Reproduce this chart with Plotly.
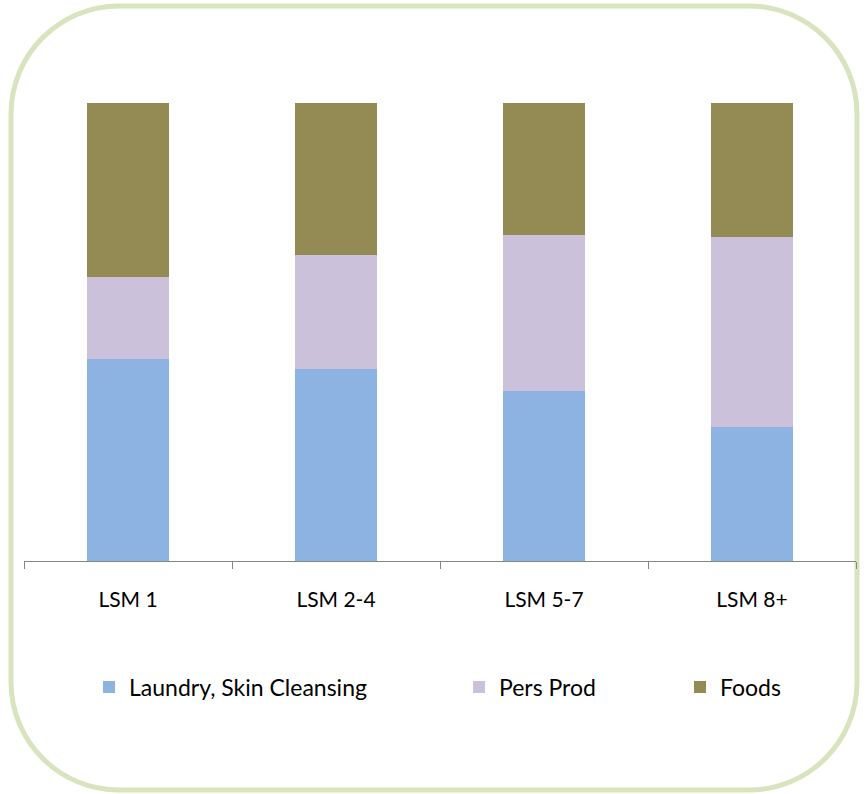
import plotly.graph_objects as go

categories = ["LSM 1", "LSM 2-4", "LSM 5-7", "LSM 8+"]
laundry = [44.1, 41.9, 37.1, 29.3]
pers_prod = [17.9, 24.9, 34.1, 41.5]
foods = [38.0, 33.2, 28.8, 29.2]

W, H = 866, 794
L, R, T, B = 24, 10, 103, 233
PW, PH = W - L - R, H - T - B

def px(x):
    return (x - L) / PW

def py(y):
    return (H - B - y) / PH

FONT = "Lato"

fig = go.Figure()
series = [
    ("Laundry, Skin Cleansing", laundry, "#8DB3E2", "legend"),
    ("Pers Prod", pers_prod, "#CCC1DA", "legend2"),
    ("Foods", foods, "#948A54", "legend3"),
]
for name, vals, color, lg in series:
    fig.add_trace(go.Bar(
        x=categories, y=vals, name=name, width=0.394,
        marker=dict(color=color, line=dict(width=0)),
        legend=lg,
    ))

# rounded border
x0, x1, y0, y1, r = 11, 857, 6, 790, 108
k = 0.5523 * r
def P(x, y):
    return f"{px(x):.5f},{py(y):.5f}"
path = (
    f"M{P(x0 + r, y0)} L{P(x1 - r, y0)} "
    f"C{P(x1 - r + k, y0)} {P(x1, y0 + r - k)} {P(x1, y0 + r)} "
    f"L{P(x1, y1 - r)} "
    f"C{P(x1, y1 - r + k)} {P(x1 - r + k, y1)} {P(x1 - r, y1)} "
    f"L{P(x0 + r, y1)} "
    f"C{P(x0 + r - k, y1)} {P(x0, y1 - r + k)} {P(x0, y1 - r)} "
    f"L{P(x0, y0 + r)} "
    f"C{P(x0, y0 + r - k)} {P(x0 + r - k, y0)} {P(x0 + r, y0)} Z"
)
fig.add_shape(type="path", path=path, xref="paper", yref="paper",
              line=dict(color="#D7E4BD", width=5), layer="below")

leg_common = dict(orientation="h", yanchor="middle", y=py(687), xanchor="left",
                  font=dict(family=FONT, size=23, color="#000000"),
                  bgcolor="rgba(0,0,0,0)", itemclick=False)
fig.update_layout(
    width=W, height=H,
    margin=dict(l=L, r=R, t=T, b=B),
    barmode="stack",
    paper_bgcolor="white", plot_bgcolor="white",
    font=dict(family=FONT, color="#000000"),
    legend=dict(x=px(89), **leg_common),
    legend2=dict(x=px(459), **leg_common),
    legend3=dict(x=px(680), **leg_common),
    xaxis=dict(
        showline=True, linecolor="#868686", linewidth=1,
        ticks="outside", tickson="boundaries", ticklen=7, tickcolor="#868686",
        tickfont=dict(family=FONT, size=21, color="#000000"),
        ticklabelstandoff=20,
        showgrid=False, zeroline=False,
    ),
    yaxis=dict(range=[0, 100], visible=False, showgrid=False, zeroline=False),
    showlegend=True,
)

fig.write_html("out.html")
